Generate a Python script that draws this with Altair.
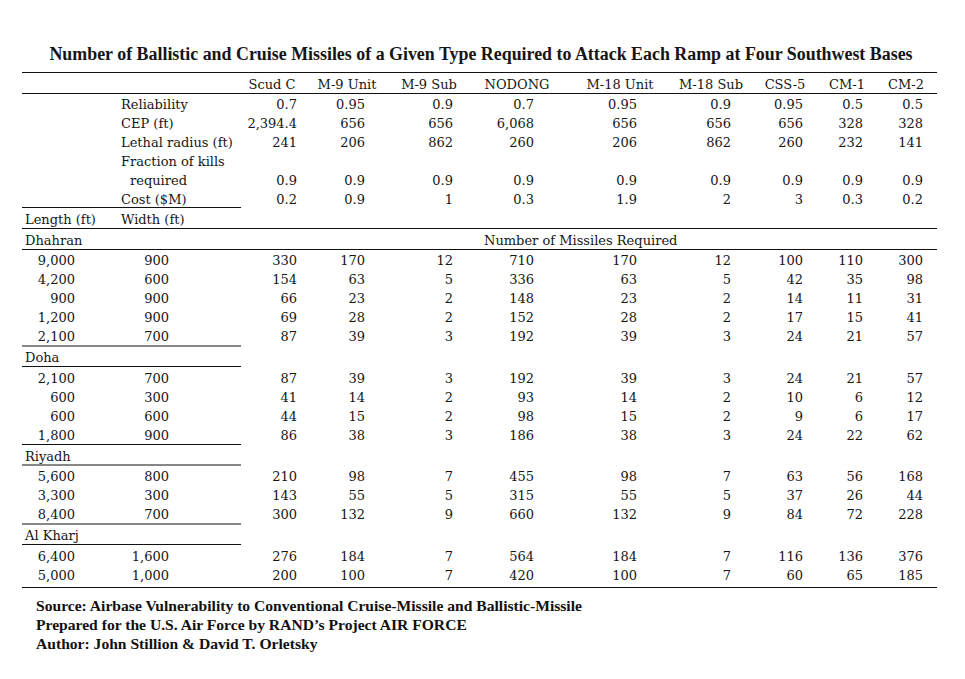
import altair as alt
import pandas as pd

# ---------------- data ----------------
title = "Number of Ballistic and Cruise Missiles of a Given Type Required to Attack Each Ramp at Four Southwest Bases"
missiles = ["Scud C", "M-9 Unit", "M-9 Sub", "NODONG", "M-18 Unit", "M-18 Sub", "CSS-5", "CM-1", "CM-2"]

metric_labels = ["Reliability", "CEP (ft)", "Lethal radius (ft)", "Fraction of kills", "required", "Cost ($M)"]
reliability = ["0.7", "0.95", "0.9", "0.7", "0.95", "0.9", "0.95", "0.5", "0.5"]
cep = ["2,394.4", "656", "656", "6,068", "656", "656", "656", "328", "328"]
lethal_radius = ["241", "206", "862", "260", "206", "862", "260", "232", "141"]
fraction_kills = ["0.9", "0.9", "0.9", "0.9", "0.9", "0.9", "0.9", "0.9", "0.9"]
cost = ["0.2", "0.9", "1", "0.3", "1.9", "2", "3", "0.3", "0.2"]

bases = ["Dhahran", "Doha", "Riyadh", "Al Kharj"]
lengths = [
    ["9,000", "4,200", "900", "1,200", "2,100"],
    ["2,100", "600", "600", "1,800"],
    ["5,600", "3,300", "8,400"],
    ["6,400", "5,000"],
]
widths = [
    ["900", "600", "900", "900", "700"],
    ["700", "300", "600", "900"],
    ["800", "300", "700"],
    ["1,600", "1,000"],
]
dhahran_counts = [
    [330, 170, 12, 710, 170, 12, 100, 110, 300],
    [154, 63, 5, 336, 63, 5, 42, 35, 98],
    [66, 23, 2, 148, 23, 2, 14, 11, 31],
    [69, 28, 2, 152, 28, 2, 17, 15, 41],
    [87, 39, 3, 192, 39, 3, 24, 21, 57],
]
doha_counts = [
    [87, 39, 3, 192, 39, 3, 24, 21, 57],
    [41, 14, 2, 93, 14, 2, 10, 6, 12],
    [44, 15, 2, 98, 15, 2, 9, 6, 17],
    [86, 38, 3, 186, 38, 3, 24, 22, 62],
]
riyadh_counts = [
    [210, 98, 7, 455, 98, 7, 63, 56, 168],
    [143, 55, 5, 315, 55, 5, 37, 26, 44],
    [300, 132, 9, 660, 132, 9, 84, 72, 228],
]
alkharj_counts = [
    [276, 184, 7, 564, 184, 7, 116, 136, 376],
    [200, 100, 7, 420, 100, 7, 60, 65, 185],
]
counts = [dhahran_counts, doha_counts, riyadh_counts, alkharj_counts]

source_lines = [
    "Source: Airbase Vulnerability to Conventional Cruise-Missile and Ballistic-Missile",
    "Prepared for the U.S. Air Force by RAND\u2019s Project AIR FORCE",
    "Author: John Stillion & David T. Orletsky",
]

# ---------------- layout (page pixels) ----------------
TABLE_L, TABLE_R, SHORT_R = 22, 937, 241
col_right = [297, 365, 453, 534, 637, 731, 803, 863, 923]
col_head_center = [272, 347, 429, 517, 620, 711, 785, 847, 906]
LEN_RIGHT, WID_RIGHT, LABEL_X, INDENT_X, BASE_X = 75, 169, 121, 130, 25
PITCH = 19

texts = []   # text, x, y, kind
rules = []   # x, x2, y

def add(t, x, y, kind):
    texts.append({"text": t, "x": x, "y": y, "kind": kind})

def rule(y, short=False):
    rules.append({"x": TABLE_L, "x2": SHORT_R if short else TABLE_R, "y": y})

add(title, 481, 55, "title")

y = 84.5
rule(y - 12)
for name, cx in zip(missiles, col_head_center):
    add(name, cx, y, "center")
rule(y + 9)

metric_values = [reliability, cep, lethal_radius, None, fraction_kills, cost]
y += 20
for i, (lab, vals) in enumerate(zip(metric_labels, metric_values)):
    add(lab, INDENT_X if lab == "required" else LABEL_X, y, "left")
    if vals is not None:
        for v, rx in zip(vals, col_right):
            add(v, rx, y, "right")
    if i < len(metric_labels) - 1:
        y += PITCH
rule(y + 8, short=True)
y += 20
add("Length (ft)", BASE_X, y, "left")
add("Width (ft)", LABEL_X, y, "left")
rule(y + 9)

for b, (base, lens, wids, cnts) in enumerate(zip(bases, lengths, widths, counts)):
    y += 21
    add(base, BASE_X, y, "left")
    if b == 0:
        add("Number of Missiles Required", 484, y, "left")
        rule(y + 9)
    else:
        rule(y + 8.5, short=True)
    y += 20.5
    for r, (L, W, row) in enumerate(zip(lens, wids, cnts)):
        if r > 0:
            y += PITCH
        add(L, LEN_RIGHT, y, "right")
        add(W, WID_RIGHT, y, "right")
        for v, rx in zip(row, col_right):
            add(f"{v}", rx, y, "right")
    if b < len(bases) - 1:
        rule(y + 9, short=True)
rule(y + 12)

sy = y + 30.5
for line in source_lines:
    add(line, 36, sy, "source")
    sy += 19

df = pd.DataFrame(texts)
rdf = pd.DataFrame(rules)

W, H = 949, 663
xs = alt.Scale(domain=[8, 8 + W], range=[0, W])
ys = alt.Scale(domain=[8, 8 + H], range=[0, H])
X = alt.X("x:Q", scale=xs, axis=None)
Y = alt.Y("y:Q", scale=ys, axis=None)

base = alt.Chart(df).encode(x=X, y=Y, text="text:N")
INK = "#161616"
body = dict(font="DejaVu Serif", fontSize=13, color=INK, baseline="middle")

layers = [
    base.transform_filter("datum.kind == 'left'").mark_text(align="left", **body),
    base.transform_filter("datum.kind == 'right'").mark_text(align="right", **body),
    base.transform_filter("datum.kind == 'center'").mark_text(align="center", **body),
    base.transform_filter("datum.kind == 'title'").mark_text(
        align="center", baseline="middle", font="Liberation Serif", fontSize=17.9,
        fontWeight="bold", color=INK),
    base.transform_filter("datum.kind == 'source'").mark_text(
        align="left", baseline="middle", font="Liberation Serif", fontSize=15.6,
        fontWeight="bold", color="#111"),
    alt.Chart(rdf).mark_rule(color="#111", strokeWidth=1.2).encode(
        x=X, x2="x2:Q", y=Y),
]

chart = alt.layer(*layers).properties(
    width=W, height=H, padding=0, autosize=alt.AutoSizeParams(type="none"),
    background="white",
).configure_view(stroke=None)

chart.save("out.html", embed_options={"renderer": "svg", "actions": False})
